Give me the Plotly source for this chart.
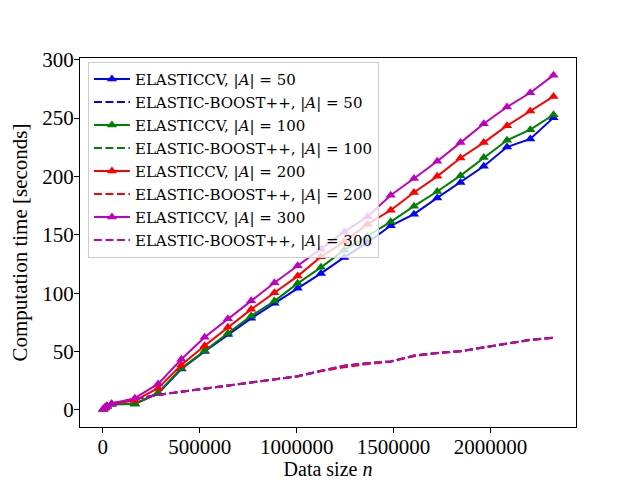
import plotly.graph_objects as go

# Data size n
n_values = [2000, 10000, 20000, 45000, 165000, 285000, 405000, 525000, 645000,
            765000, 885000, 1005000, 1125000, 1245000, 1365000, 1485000,
            1605000, 1725000, 1845000, 1965000, 2085000, 2205000, 2325000]

# ElasticCV computation time (seconds)
cv_50 = [0.5, 1.5, 3.0, 4.8, 5.0, 14.0, 35.0, 50.0, 64.5, 78.4, 91.3, 104.1,
         116.9, 130.6, 143.5, 157.7, 167.7, 181.6, 194.8, 208.7, 225.2, 232.1, 250.4]
cv_100 = [0.5, 1.5, 3.0, 4.9, 5.1, 14.8, 35.7, 50.7, 65.6, 80.5, 93.2, 108.4,
          122.1, 136.9, 149.0, 161.1, 174.5, 187.1, 200.7, 216.2, 231.0, 240.1, 252.9]
cv_200 = [0.6, 1.7, 3.2, 5.0, 8.0, 18.6, 38.5, 55.0, 70.7, 86.1, 100.3, 114.6,
          131.1, 144.0, 159.1, 171.0, 186.2, 200.1, 215.8, 229.0, 243.5, 256.0, 268.6]
cv_300 = [0.7, 1.8, 3.4, 5.2, 10.0, 22.2, 43.4, 62.2, 78.0, 93.5, 108.9, 123.5,
          137.7, 152.5, 165.4, 183.9, 198.2, 213.0, 229.0, 245.2, 259.5, 271.7, 286.8]

# Elastic-Boost++ computation time (seconds)
bo_50 = [0.8, 2.5, 4.0, 5.5, 9.2, 12.8, 15.5, 18.2, 21.0, 23.5, 26.5, 28.8,
         33.5, 37.8, 40.0, 41.5, 46.5, 48.8, 50.3, 53.5, 57.2, 60.1, 61.9]
bo_100 = [0.8, 2.5, 4.0, 5.5, 9.2, 12.8, 15.5, 18.2, 21.0, 23.5, 26.5, 28.8,
          33.4, 37.6, 40.0, 41.5, 46.4, 48.8, 50.3, 53.5, 57.0, 60.0, 61.8]
bo_200 = [0.8, 2.5, 4.0, 5.5, 9.2, 12.8, 15.5, 18.2, 21.0, 23.5, 26.5, 28.6,
          33.0, 36.5, 39.2, 41.2, 46.0, 48.6, 50.2, 53.4, 56.8, 59.8, 61.7]
bo_300 = [0.8, 2.5, 4.0, 5.5, 9.2, 12.8, 15.5, 18.2, 21.0, 23.5, 26.5, 28.8,
          33.5, 37.8, 40.0, 41.5, 46.5, 48.8, 50.3, 53.5, 57.0, 59.9, 61.8]

sizes = ["50", "100", "200", "300"]
colors = ["#0000ff", "#008000", "#ff0000", "#bf00bf"]
cv_series = [cv_50, cv_100, cv_200, cv_300]
bo_series = [bo_50, bo_100, bo_200, bo_300]

fig = go.Figure()
for k in range(4):
    fig.add_trace(go.Scatter(
        x=n_values, y=cv_series[k], mode="lines+markers",
        name="ELASTICCV, |<i>A</i>| = " + sizes[k],
        legendgroup="cv" + sizes[k],
        line=dict(color=colors[k], width=2),
        marker=dict(symbol="triangle-up", size=9, color=colors[k]),
    ))
    fig.add_trace(go.Scatter(
        x=n_values, y=bo_series[k], mode="lines",
        name="ELASTIC-BOOST++, |<i>A</i>| = " + sizes[k],
        legendgroup="bo" + sizes[k],
        line=dict(color=colors[k], width=2, dash="8px,3.5px"),
    ))

axis_font = dict(family="Liberation Serif", size=21, color="black")
title_font = dict(family="Liberation Serif", size=20, color="black")
# page body adds an 8px offset, so the figure is 8px smaller and margins shifted
fig.update_layout(
    width=632, height=472,
    margin=dict(l=72, r=64, t=49.6, b=52.8, autoexpand=False),
    paper_bgcolor="white", plot_bgcolor="white",
    font=dict(family="Liberation Serif", color="black"),
    showlegend=True,
    legend=dict(
        x=0.016, y=0.99, xanchor="left", yanchor="top",
        bgcolor="rgba(255,255,255,0.8)", bordercolor="#cccccc", borderwidth=1,
        font=dict(family="DejaVu Serif", size=15, color="black"),
        tracegroupgap=0.5, itemwidth=36,
    ),
)
fig.update_xaxes(
    range=[-118000, 2441000], tickvals=[0, 500000, 1000000, 1500000, 2000000],
    ticktext=["0", "500000", "1000000", "1500000", "2000000"],
    showgrid=False, zeroline=False, showline=True, linecolor="black", linewidth=1.2,
    mirror=True, ticks="outside", ticklen=5, tickcolor="black", tickfont=axis_font,
    ticklabelstandoff=-4,
    title=dict(text="Data size <i>n</i>", font=title_font, standoff=12),
)
fig.update_yaxes(
    range=[-14.7, 301.5], tickvals=[0, 50, 100, 150, 200, 250, 300],
    showgrid=False, zeroline=False, showline=True, linecolor="black", linewidth=1.2,
    mirror=True, ticks="outside", ticklen=5, tickcolor="black", tickfont=axis_font,
    ticklabelstandoff=-4,
    title=dict(text="Computation time [seconds]", font=axis_font, standoff=10),
)
fig.write_html("out.html")
